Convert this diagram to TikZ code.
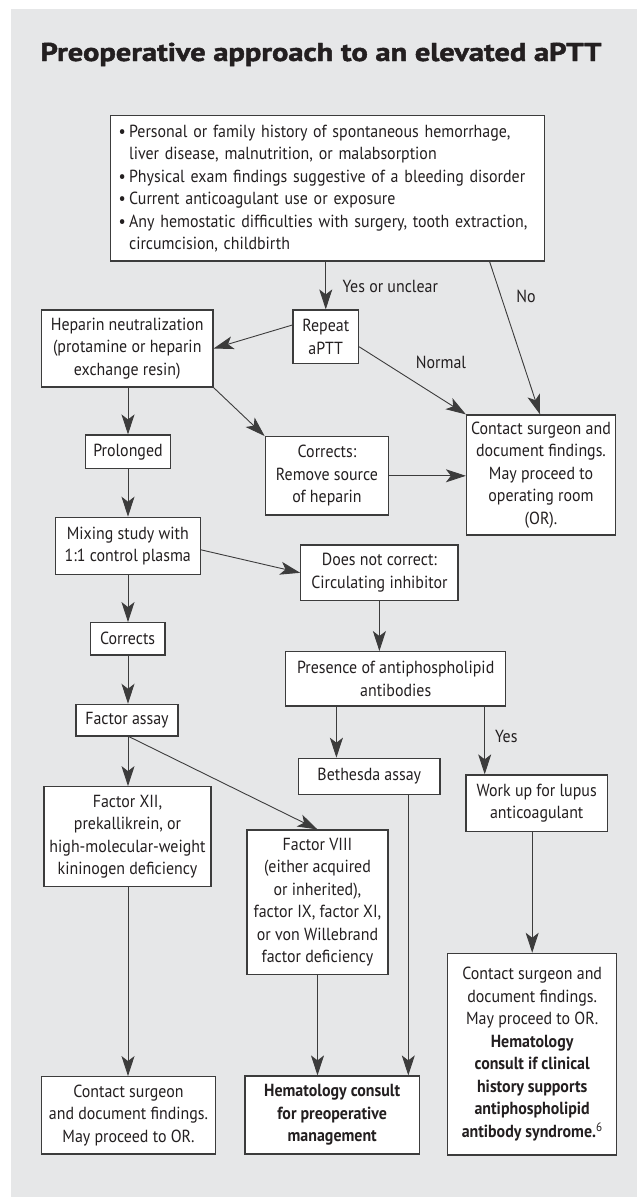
\documentclass[tikz,border=0pt]{standalone}
\usepackage{fontspec}
\setmainfont{PT Sans}[FakeStretch=0.91]
\newfontfamily\titlefont{PT Sans Bold}[FakeBold=1.6]
\usetikzlibrary{arrows.meta}
\definecolor{bg}{HTML}{E6E7E8}
\definecolor{ink}{HTML}{231F20}
\definecolor{edgec}{HTML}{3C3C3C}
\newcommand\myfont{\fontsize{17.5}{22.5}\selectfont}
\newcommand\bul{\makebox[10.5pt][l]{\textbullet}}
\newcommand\ind{\hspace*{10.5pt}}
\begin{document}
\begin{tikzpicture}[x=1pt,y=-1pt,
  box/.style={draw=edgec, line width=1.2pt, fill=white, align=center, inner sep=0pt, text=ink, font=\myfont},
  arr/.style={draw=edgec, line width=0.9pt, -{Stealth[length=20pt,width=13pt,inset=5pt]}},
  lbl/.style={text=ink, font=\myfont, inner sep=0pt}]
\useasboundingbox (0,0) rectangle (637,1197);
\fill[bg] (11,9) rectangle (637,1197);
\node[anchor=base, text=ink, inner sep=0pt] (title) at (321,61)
  {\resizebox{561pt}{18.3pt}{\titlefont Preoperative approach to an elevated aPTT}};

\node[box, align=left, text width=418pt, inner xsep=8pt, minimum height=145.3pt] (top) at (327.6,188.4)
  {\bul Personal or family history of spontaneous hemorrhage,\\
   \ind liver disease, malnutrition, or malabsorption\\
   \bul Physical exam findings suggestive of a bleeding disorder\\
   \bul Current anticoagulant use or exposure\\
   \bul Any hemostatic difficulties with surgery, tooth extraction,\\
   \ind circumcision, childbirth};

\node[box, minimum width=171.5pt, minimum height=77pt] (heparin) at (127.25,348.5)
  {Heparin neutralization\\(protamine or heparin\\exchange resin)};
\node[box, minimum width=65.5pt, minimum height=53.5pt] (repeat) at (325.75,336.75)
  {Repeat\\aPTT};
\node[box, minimum width=149pt, minimum height=120pt] (contact1) at (541,475)
  {Contact surgeon and\\document findings.\\May proceed to\\operating room\\(OR).};
\node[box, minimum width=85.4pt, minimum height=33.3pt] (prolonged) at (128,451.7)
  {Prolonged};
\node[box, minimum width=123.5pt, minimum height=78.3pt] (corrects1) at (327,475.8)
  {Corrects:\\Remove source\\of heparin};
\node[box, minimum width=145pt, minimum height=57pt] (mixing) at (127.8,545.8)
  {Mixing study with\\1:1 control plasma};
\node[box, minimum width=157.2pt, minimum height=55.7pt] (dnc) at (379.4,572.8)
  {Does not correct:\\Circulating inhibitor};
\node[box, minimum width=74.8pt, minimum height=32.3pt] (corrects2) at (127.6,638.8)
  {Corrects};
\node[box, minimum width=220.2pt, minimum height=54.3pt] (presence) at (395.7,678.8)
  {Presence of antiphospholipid\\antibodies};
\node[box, minimum width=102pt, minimum height=31.7pt] (factor) at (127,720.2)
  {Factor assay};
\node[box, minimum width=141.4pt, minimum height=36pt] (bethesda) at (369.3,776.3)
  {Bethesda assay};
\node[box, minimum width=141.4pt, minimum height=56.7pt] (workup) at (536.7,803.3)
  {Work up for lupus\\anticoagulant};
\node[box, minimum width=167pt, minimum height=100pt] (xii) at (127.5,836.7)
  {Factor XII,\\prekallikrein, or\\high-molecular-weight\\kininogen deficiency};
\node[box, minimum width=141pt, minimum height=144.3pt] (viii) at (317.5,902.2)
  {Factor VIII\\(either acquired\\or inherited),\\factor IX, factor XI,\\or von Willebrand\\factor deficiency};
\node[box, minimum width=169pt, minimum height=201.7pt] (contact3) at (532.2,1054.2)
  {Contact surgeon and\\document findings.\\May proceed to OR.\\\textbf{Hematology}\\\textbf{consult if clinical}\\\textbf{history supports}\\\textbf{antiphospholipid}\\\textbf{antibody syndrome.}\textsuperscript{6}};
\node[box, minimum width=173.5pt, minimum height=77.3pt] (contact4) at (128.5,1115.3)
  {Contact surgeon\\and document findings.\\May proceed to OR.};
\node[box, minimum width=174.3pt, minimum height=78pt] (hema) at (332.2,1115)
  {\textbf{Hematology consult}\\\textbf{for preoperative}\\\textbf{management}};

% connectors
\draw[arr] (top.south -| repeat.north) -- (repeat.north);
\node[lbl, anchor=west] (lyes) at (342.5,286) {Yes or unclear};
\draw[arr] ([xshift=162pt]top.south) -- ([xshift=-1pt]contact1.north);
\node[lbl] (lno) at (526,296) {No};
\draw[arr] ([yshift=11.75pt]repeat.west) -- (heparin.east);
\draw[arr] ([yshift=-10pt]repeat.east) -- (contact1.north west);
\node[lbl] (lnormal) at (441,362) {Normal};
\draw[arr] (heparin.south east) -- (corrects1.north west);
\draw[arr] (heparin.south -| prolonged.north) -- (prolonged.north);
\draw[arr] (corrects1.east) -- (corrects1.east -| contact1.west);
\draw[arr] (prolonged.south) -- (prolonged.south |- mixing.north);
\draw[arr] ([yshift=-4pt]mixing.east) -- (dnc.west);
\draw[arr] (mixing.south -| prolonged.south) -- (prolonged.south |- corrects2.north);
\draw[arr] (dnc.south) -- (dnc.south |- presence.north);
\draw[arr] (corrects2.south -| prolonged.south) -- (prolonged.south |- factor.north);
\draw[arr] ([xshift=-59.3pt]presence.south) -- ([xshift=-59.3pt]presence.south |- bethesda.north);
\draw[arr] ([xshift=89pt]presence.south) -- ([xshift=89pt]presence.south |- workup.north);
\node[lbl, anchor=west] (lyes2) at (495,736) {Yes};
\draw[arr] (factor.south -| prolonged.south) -- (prolonged.south |- xii.north);
\draw[arr] ([xshift=2pt]factor.south) -- (viii.north);
\draw[arr] ([xshift=39pt]bethesda.south) -- ([xshift=39pt]bethesda.south |- hema.north);
\draw[arr] (contact3.north |- workup.south) -- (contact3.north);
\draw[arr] (xii.south -| prolonged.south) -- (prolonged.south |- contact4.north);
\draw[arr] (viii.south) -- (viii.south |- hema.north);
\end{tikzpicture}
\end{document}
